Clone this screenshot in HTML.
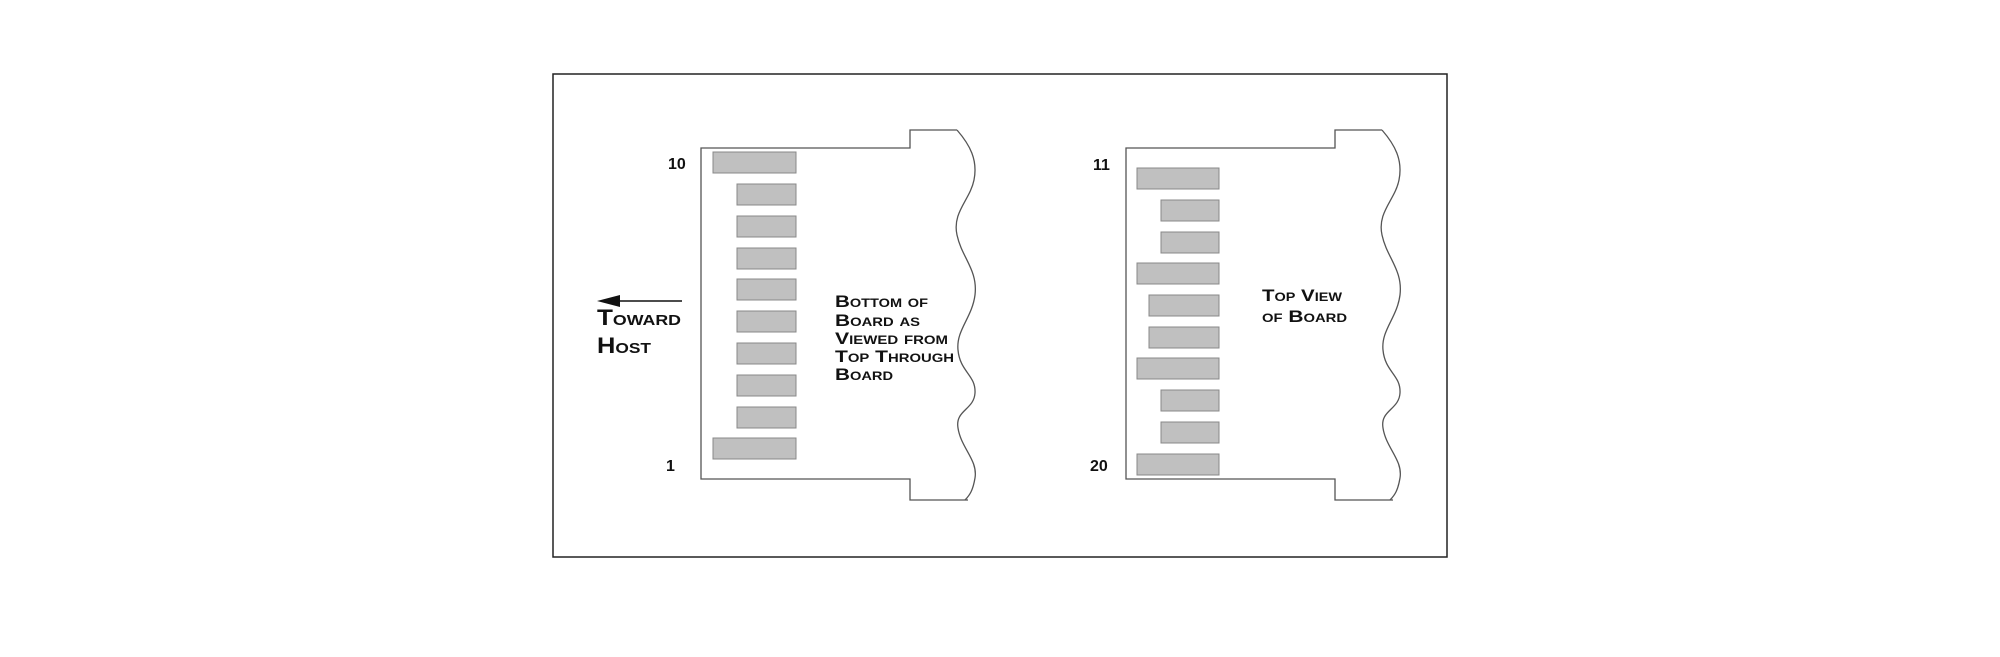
<!DOCTYPE html>
<html><head><meta charset="utf-8"><style>
html,body{margin:0;padding:0;background:#fff}
svg{display:block}
text{font-family:"Liberation Sans",sans-serif;font-weight:bold;fill:#111}
.sc{font-variant:small-caps}
</style></head><body>
<svg width="2000" height="657" viewBox="0 0 2000 657" xmlns="http://www.w3.org/2000/svg">
<rect x="553" y="74" width="894" height="483" fill="none" stroke="#222" stroke-width="1.5"/>
<g id="b1" fill="none" stroke="#555" stroke-width="1.3">
<path d="M957,130 L910,130 L910,148 L701,148 L701,479 L910,479 L910,500 L968,500"/>
<path d="M957,130 C970,145 978,160 974,180 C970,200 952,212 957,235 C962,258 978,270 975,295 C972,318 956,330 958,350 C960,372 976,375 975,393 C974,410 955,410 958,428 C961,448 978,460 975,478 C973,490 970,495 965,500"/>
</g>
<use href="#b1" transform="translate(425,0)"/>
<g fill="#c0c0c0" stroke="#888" stroke-width="1">
<rect x="713" y="152" width="83" height="21"/>
<rect x="737" y="184" width="59" height="21"/>
<rect x="737" y="216" width="59" height="21"/>
<rect x="737" y="248" width="59" height="21"/>
<rect x="737" y="279" width="59" height="21"/>
<rect x="737" y="311" width="59" height="21"/>
<rect x="737" y="343" width="59" height="21"/>
<rect x="737" y="375" width="59" height="21"/>
<rect x="737" y="407" width="59" height="21"/>
<rect x="713" y="438" width="83" height="21"/>

<rect x="1137" y="168" width="82" height="21"/>
<rect x="1161" y="200" width="58" height="21"/>
<rect x="1161" y="232" width="58" height="21"/>
<rect x="1137" y="263" width="82" height="21"/>
<rect x="1149" y="295" width="70" height="21"/>
<rect x="1149" y="327" width="70" height="21"/>
<rect x="1137" y="358" width="82" height="21"/>
<rect x="1161" y="390" width="58" height="21"/>
<rect x="1161" y="422" width="58" height="21"/>
<rect x="1137" y="454" width="82" height="21"/>
</g>
<text x="668" y="169" font-size="16">10</text>
<text x="666" y="471" font-size="16">1</text>
<text x="1093" y="170" font-size="16">11</text>
<text x="1090" y="471" font-size="16">20</text>
<line x1="682" y1="301" x2="610" y2="301" stroke="#111" stroke-width="1.5"/>
<polygon points="597,301 620,295 620,307" fill="#111"/>
<text class="sc" x="597" y="325" font-size="22" textLength="84" lengthAdjust="spacingAndGlyphs">Toward</text>
<text class="sc" x="597" y="353" font-size="22" textLength="54" lengthAdjust="spacingAndGlyphs">Host</text>
<g font-size="17">
<text class="sc" x="835" y="307" textLength="93" lengthAdjust="spacingAndGlyphs">Bottom of</text>
<text class="sc" x="835" y="326" textLength="85" lengthAdjust="spacingAndGlyphs">Board as</text>
<text class="sc" x="835" y="344" textLength="113" lengthAdjust="spacingAndGlyphs">Viewed from</text>
<text class="sc" x="835" y="362" textLength="119" lengthAdjust="spacingAndGlyphs">Top Through</text>
<text class="sc" x="835" y="380" textLength="58" lengthAdjust="spacingAndGlyphs">Board</text>
<text class="sc" x="1262" y="301" textLength="80" lengthAdjust="spacingAndGlyphs">Top View</text>
<text class="sc" x="1262" y="322" textLength="85" lengthAdjust="spacingAndGlyphs">of Board</text>
</g>
</svg>
</body></html>
